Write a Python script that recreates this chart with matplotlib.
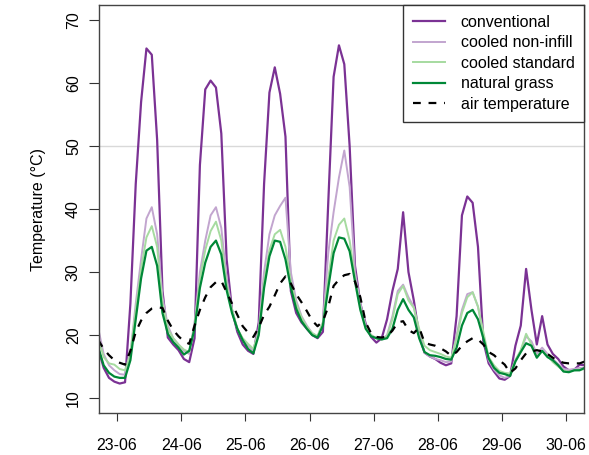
import numpy as np
import matplotlib
matplotlib.use("Agg")
import matplotlib.pyplot as plt

plt.rcParams['font.family'] = ['Liberation Sans', 'DejaVu Sans']

# hours since 23-06 00:00, every 2 hours
hours = np.arange(-7, 176, 2)

conventional = [17.8, 14.8, 13.2, 12.6,
                12.3, 12.5, 25.0, 44.0, 57.0, 65.5, 64.5, 51.0, 27.0, 19.6, 18.5, 17.6,
                16.2, 15.7, 19.5, 47.0, 59.0, 60.4, 59.3, 52.0, 32.0, 24.0, 20.5, 18.5,
                17.5, 17.0, 22.0, 44.0, 58.5, 62.5, 58.3, 51.5, 27.0, 23.5, 22.0, 21.0,
                20.0, 19.5, 20.5, 41.0, 61.0, 66.0, 63.0, 50.0, 31.0, 25.0, 21.8, 19.7,
                18.8, 19.5, 22.5, 27.0, 30.5, 39.5, 30.0, 25.5, 20.0, 17.2, 16.6, 16.2,
                15.6, 15.2, 15.5, 23.0, 39.0, 42.0, 41.0, 34.0, 19.0, 15.5, 14.2, 13.1,
                12.9, 13.5, 18.3, 21.5, 30.5, 24.0, 18.5, 23.0, 18.5, 17.0, 16.2, 15.0,
                14.4, 14.5, 15.3, 15.2]

non_infill = [21.0, 17.0, 15.2, 14.4,
              13.8, 13.7, 17.0, 25.0, 32.0, 38.5, 40.3, 36.0, 26.0, 21.5, 19.5, 18.5,
              17.5, 17.0, 22.0, 30.0, 35.0, 39.0, 40.3, 37.0, 29.0, 24.0, 21.0, 19.3,
              18.3, 17.5, 21.0, 30.0, 36.0, 39.0, 40.5, 41.8, 30.0, 25.5, 23.0, 21.5,
              20.3, 19.8, 22.0, 33.0, 39.5, 45.0, 49.3, 43.5, 30.0, 25.0, 21.5, 20.0,
              19.5, 19.3, 20.0, 23.0, 27.0, 28.0, 26.0, 24.5, 20.0, 17.2, 16.6, 16.2,
              16.0, 15.7, 15.8, 20.0, 24.0, 26.5, 26.8, 24.5, 20.0, 16.0, 14.5, 13.6,
              13.2, 13.5, 16.0, 17.5, 19.8, 19.0, 17.0, 18.0, 17.0, 16.2, 15.4, 14.6,
              14.5, 14.6, 14.8, 14.8]

standard = [19.5, 16.5, 15.5, 15.3,
            14.6, 14.4, 17.0, 24.0, 30.5, 35.5, 37.3, 34.0, 25.0, 21.0, 19.5, 18.5,
            17.7, 17.3, 21.5, 29.0, 33.5, 36.5, 38.0, 35.0, 28.0, 24.0, 21.0, 19.5,
            18.6, 17.8, 20.5, 28.5, 33.5, 36.0, 36.7, 34.0, 28.5, 25.0, 22.8, 21.3,
            20.3, 19.8, 22.0, 29.0, 35.0, 37.5, 38.5, 35.0, 29.0, 24.5, 21.2, 20.0,
            19.5, 19.3, 19.8, 22.5, 26.5, 27.8, 25.5, 24.3, 21.0, 18.3, 17.6, 17.3,
            17.0, 16.6, 16.4, 19.5, 23.5, 26.0, 26.8, 24.5, 20.5, 16.5, 15.2, 14.3,
            14.0, 13.9, 16.0, 17.6, 20.2, 18.5, 16.5, 17.5, 16.7, 15.7, 15.0, 14.3,
            14.2, 14.4, 14.5, 14.6]

grass = [18.0, 15.2, 14.0, 13.4,
         13.2, 13.2, 16.0, 22.5, 29.0, 33.4, 34.0, 31.0, 23.5, 20.2, 18.9, 18.0,
         16.9, 17.5, 21.0, 27.5, 31.5, 34.0, 35.0, 32.8, 27.1, 23.5, 21.0, 19.2,
         17.8, 17.1, 20.0, 27.5, 32.5, 35.0, 34.8, 32.0, 27.5, 24.2, 22.2, 21.0,
         20.0, 19.6, 21.5, 27.5, 33.0, 35.5, 35.3, 33.3, 28.5, 24.0, 21.0, 19.8,
         19.5, 19.3, 19.5, 21.0, 24.0, 25.7, 24.0, 22.8, 19.5, 17.3, 16.8, 16.7,
         16.5, 16.2, 16.1, 18.0, 21.5, 23.5, 24.0, 22.5, 19.5, 16.3, 14.8, 14.0,
         13.8, 13.5, 15.8, 17.3, 18.7, 18.3, 16.4, 17.5, 16.5, 16.0, 15.2, 14.2,
         14.1, 14.4, 14.4, 14.8]

air = [19.2, 17.8, 16.8, 16.0,
       15.6, 15.3, 17.5, 20.5, 22.3, 23.5, 24.2, 24.4, 24.3, 22.3, 20.8, 19.8,
       19.0, 18.6, 21.5, 24.0, 26.0, 27.6, 28.4, 28.6, 26.8, 25.0, 23.2, 21.4,
       20.4, 19.7, 21.2, 23.2, 24.5, 26.3, 28.2, 29.3, 28.2, 26.5, 25.2, 23.8,
       22.3, 21.4, 22.2, 24.5, 27.8, 28.8, 29.5, 29.7, 28.5, 26.0, 22.0, 20.3,
       19.7, 19.6, 19.8, 20.7, 22.0, 22.2, 20.8, 20.3, 21.2, 18.8, 18.5, 18.3,
       17.9, 17.4, 16.7, 17.3, 18.3, 19.0, 19.5, 19.3, 18.5, 17.3, 16.8, 16.0,
       15.3, 14.0, 14.7, 16.0, 17.1, 17.4, 17.6, 17.4, 17.0, 16.4, 15.9, 15.6,
       15.5, 15.5, 15.5, 15.8]

days = [23, 24, 25, 26, 27, 28, 29, 30]
day_labels = ["%d-06" % d for d in days]

x = 23 + hours / 24.0

fig = plt.figure(figsize=(5.89, 4.55), dpi=100)
ax = fig.add_axes([0.168, 0.092, 0.824, 0.897])

ax.axhline(50, color="#d9d9d9", lw=1, zorder=0)
ax.plot(x, conventional, color="#7b3294", lw=1.6, label="conventional")
ax.plot(x, non_infill, color="#c2a5cf", lw=1.4, label="cooled non-infill")
ax.plot(x, standard, color="#a6dba0", lw=1.4, label="cooled standard")
ax.plot(x, grass, color="#008837", lw=1.6, label="natural grass")
ax.plot(x, air, color="black", lw=1.6, ls=(0, (3.5, 3.5)), label="air temperature")

ax.set_xlim(x[0] + 0.01, x[-1] - 0.01)
ax.set_ylim(7.6, 72.4)
ax.set_yticks([10, 20, 30, 40, 50, 60, 70])
ax.set_xticks(days)
ax.set_xticklabels(day_labels)
ax.tick_params(axis="both", labelsize=11.5, color="#333333", direction="out")
ax.tick_params(axis="y", length=7, pad=6, labelrotation=90)
ax.tick_params(axis="x", length=6, pad=12)
for lbl in ax.get_yticklabels():
    lbl.set_va("center")
for s in ax.spines.values():
    s.set_color("#444444")
    s.set_linewidth(1)

ax.set_ylabel("Temperature (\u00b0C)", fontsize=11.5, labelpad=14)

leg = ax.legend(loc="upper right", borderaxespad=0, fancybox=False,
                edgecolor="#333333", framealpha=1, fontsize=11.5,
                handlelength=2.0, handletextpad=1.0, labelspacing=0.35,
                borderpad=0.6)
leg.get_frame().set_linewidth(1)

fig.savefig("out.png", dpi=100)
